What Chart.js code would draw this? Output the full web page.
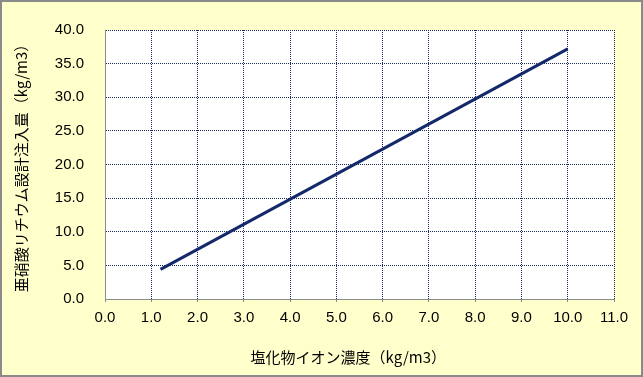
<!DOCTYPE html>
<html>
<head>
<meta charset="utf-8">
<script src="https://cdn.jsdelivr.net/npm/chart.js@4/dist/chart.umd.min.js"></script>
<style>
  html, body { margin: 0; padding: 0; background: #ffffcc; }
  #wrap { width: 643px; height: 377px; }
</style>
</head>
<body>
<div id="wrap"><canvas id="chart" width="643" height="377"></canvas></div>
<script>
// data
const chlorideX = [1.2, 10.0];
const nitriteY = [4.4, 37.2];
const xTitle = "塩化物イオン濃度（kg/m3）";
const yTitle = "亜硝酸リチウム設計注入量（kg/m3）";

const points = chlorideX.map((x, i) => ({ x: x, y: nitriteY[i] }));

const gridColor = "#1c2858";
const axisColor = "#8c8c8c";

// yellow page, white plot area, grey frame
const backdrop = {
  id: "backdrop",
  beforeDraw(chart) {
    const ctx = chart.ctx;
    const a = chart.chartArea;
    ctx.save();
    ctx.fillStyle = "#ffffcc";
    ctx.fillRect(0, 0, chart.width, chart.height);
    ctx.fillStyle = "#ffffff";
    ctx.fillRect(a.left, a.top, a.right - a.left, a.bottom - a.top);
    ctx.strokeStyle = "#8a8a8a";
    ctx.lineWidth = 2;
    ctx.strokeRect(1, 1, chart.width - 2, chart.height - 2);
    ctx.restore();
  }
};

new Chart(document.getElementById("chart"), {
  type: "scatter",
  data: {
    datasets: [{
      data: points,
      showLine: true,
      borderColor: "#14296b",
      borderWidth: 3,
      pointRadius: 0,
      tension: 0
    }]
  },
  options: {
    responsive: false,
    animation: false,
    layout: { padding: { left: 5, right: 29, top: 17, bottom: 5 } },
    plugins: { legend: { display: false }, tooltip: { enabled: false } },
    scales: {
      x: {
        type: "linear",
        min: 0,
        max: 11,
        afterFit(scale) { scale.height = 73; },
        ticks: {
          stepSize: 1,
          padding: 7,
          color: "#000",
          font: { family: "Liberation Sans", size: 15 },
          callback: v => v.toFixed(1)
        },
        grid: {
          color: ctx => ctx.index === 0 ? "rgba(0,0,0,0)" : gridColor,
          tickColor: axisColor,
          tickLength: 3,
          tickBorderDash: [],
          lineWidth: 1
        },
        // in v4 border.dash also dashes the grid lines; the axis line stays solid
        border: { display: true, color: axisColor, width: 1, dash: [1, 1] },
        title: {
          display: true,
          text: xTitle + "\u3000\u3000",
          color: "#000",
          font: { family: "Noto Sans CJK JP", size: 15 },
          padding: 6
        }
      },
      y: {
        type: "linear",
        min: 0,
        max: 40,
        afterFit(scale) { scale.width = 100; },
        ticks: {
          stepSize: 5,
          padding: 21,
          color: "#000",
          font: { family: "Liberation Sans", size: 15 },
          callback: v => v.toFixed(1)
        },
        grid: {
          color: ctx => ctx.index === 0 ? "rgba(0,0,0,0)" : gridColor,
          drawTicks: false,
          lineWidth: 1
        },
        border: { display: true, color: axisColor, width: 1, dash: [1, 1] },
        title: {
          display: true,
          text: yTitle,
          color: "#000",
          font: { family: "Noto Sans CJK JP", size: 15 },
          padding: { top: 7, bottom: 0 }
        }
      }
    }
  },
  plugins: [backdrop]
});
</script>
</body>
</html>
